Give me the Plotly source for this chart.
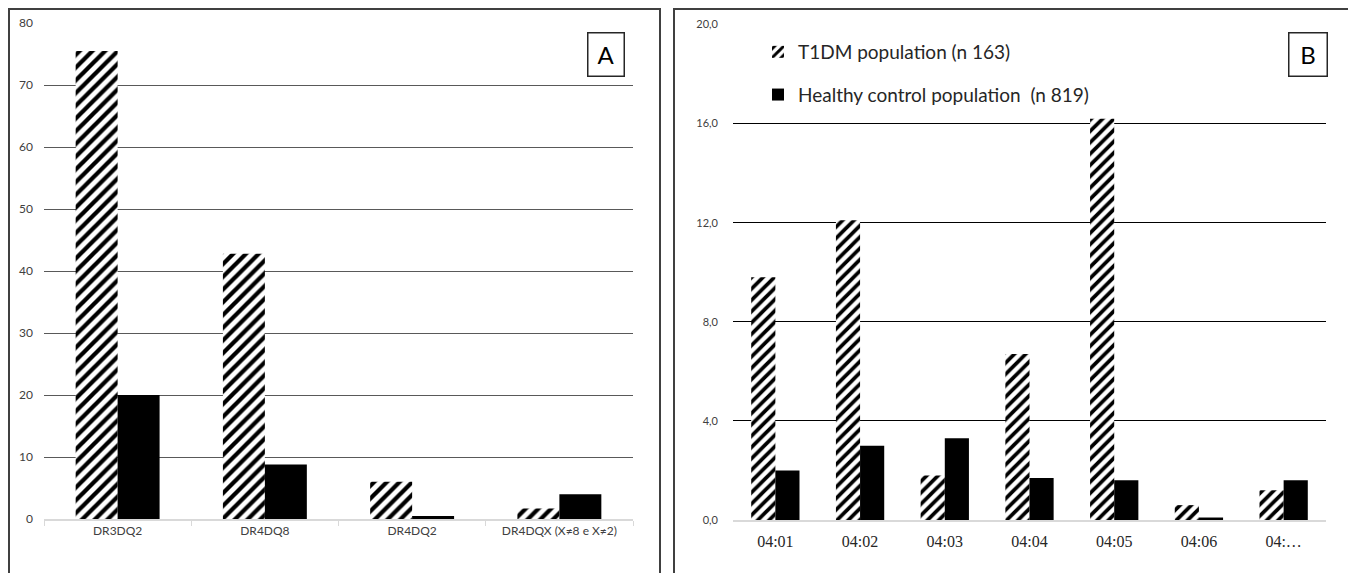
import plotly.graph_objects as go

# ---- data ----
cats_a = ["DR3DQ2", "DR4DQ8", "DR4DQ2", "DR4DQX (X≠8 e X≠2)"]
t1dm_a = [75.5, 42.8, 6.0, 1.7]
ctrl_a = [20.0, 8.8, 0.5, 4.0]

cats_b = ["04:01", "04:02", "04:03", "04:04", "04:05", "04:06", "04:…"]
t1dm_b = [9.8, 12.1, 1.8, 6.7, 16.2, 0.6, 1.2]
ctrl_b = [2.0, 3.0, 3.3, 1.7, 1.6, 0.1, 1.6]

ytick_a = [0, 10, 20, 30, 40, 50, 60, 70, 80]
ytick_b = [0, 4, 8, 12, 16, 20]
ytext_b = ["0,0", "4,0", "8,0", "12,0", "16,0", "20,0"]

name_t1 = "T1DM population (n 163)"
name_hc = "Healthy control population  (n 819)"

W, H = 1356, 573
OFF = 8  # page body margin
def px(x):
    return (x - OFF) / W
def py(y):
    return 1 - (y - OFF) / H

hatch = dict(shape="/", fgcolor="black", bgcolor="white", size=9, solidity=0.47, fillmode="replace")

fig = go.Figure()
fig.add_trace(go.Bar(x=cats_a, y=t1dm_a, name=name_t1, xaxis="x", yaxis="y",
                     marker=dict(color="white", pattern=hatch, line=dict(width=0)),
                     showlegend=False, legendgroup="t1"))
fig.add_trace(go.Bar(x=cats_a, y=ctrl_a, name=name_hc, xaxis="x", yaxis="y",
                     marker=dict(color="black", line=dict(width=0)),
                     showlegend=False, legendgroup="hc"))
hatch_b = dict(hatch, size=8)
fig.add_trace(go.Bar(x=cats_b, y=t1dm_b, name=name_t1, xaxis="x2", yaxis="y2",
                     marker=dict(color="white", pattern=hatch_b, line=dict(width=0)),
                     legendgroup="t1"))
fig.add_trace(go.Bar(x=cats_b, y=ctrl_b, name=name_hc, xaxis="x2", yaxis="y2",
                     marker=dict(color="black", line=dict(width=0)),
                     legendgroup="hc"))

fig.update_layout(
    template="none",
    width=W, height=H,
    margin=dict(l=0, r=0, t=0, b=0, pad=0),
    paper_bgcolor="white", plot_bgcolor="white",
    barmode="group", bargap=0.43, bargroupgap=0,
    font=dict(family="Lato", color="#404040"),
    xaxis=dict(domain=[px(44), px(633)], anchor="y", showgrid=False, zeroline=False,
               automargin=False,
               showline=True, linecolor="#d9d9d9", linewidth=1.5,
               ticks="outside", tickson="boundaries", ticklen=5, tickcolor="#d9d9d9",
               tickfont=dict(family="Lato", size=12, color="#404040")),
    yaxis=dict(domain=[py(519), py(23)], anchor="x", range=[0, 80], tickvals=ytick_a,
               automargin=False,
               showgrid=True, gridcolor="#595959", gridwidth=1.2, zeroline=False,
               showline=False, ticks="", ticklabelstandoff=10,
               tickfont=dict(family="Lato", size=12, color="#404040")),
    xaxis2=dict(domain=[px(733), px(1326)], anchor="y2", showgrid=False, zeroline=False,
                automargin=False,
                showline=True, linecolor="#d9d9d9", linewidth=1.5, ticks="",
                ticklabelstandoff=6,
                tickfont=dict(family="Liberation Serif", size=16, color="#262626")),
    yaxis2=dict(domain=[py(520), py(24.5)], anchor="x2", range=[0, 20],
                tickvals=ytick_b, ticktext=ytext_b, automargin=False,
                showgrid=True, gridcolor="#000000", gridwidth=1, zeroline=False,
                showline=False, ticks="", ticklabelstandoff=14,
                tickfont=dict(family="Lato", size=11, color="#404040")),
    legend=dict(x=px(758), y=py(33), xanchor="left", yanchor="top",
                bgcolor="rgba(0,0,0,0)", borderwidth=0, tracegroupgap=15,
                font=dict(family="Lato", size=19, color="#262626")),
    shapes=[
        dict(type="rect", xref="paper", yref="paper", x0=px(9), x1=px(660), y0=-0.05, y1=py(9),
             line=dict(color="#404040", width=2), fillcolor="rgba(0,0,0,0)"),
        dict(type="rect", xref="paper", yref="paper", x0=px(674), x1=px(1352), y0=-0.05, y1=py(9),
             line=dict(color="#404040", width=2), fillcolor="rgba(0,0,0,0)"),
    ],
    annotations=[
        dict(text="A", xref="paper", yref="paper", x=px(605.5), y=py(54), showarrow=False,
             xanchor="center", yanchor="middle", width=33, height=40, borderpad=1,
             bordercolor="#262626", borderwidth=1.5, font=dict(family="Lato", size=24, color="#000")),
        dict(text="B", xref="paper", yref="paper", x=px(1308), y=py(54.5), showarrow=False,
             xanchor="center", yanchor="middle", width=35, height=40, borderpad=1,
             bordercolor="#262626", borderwidth=1.5, font=dict(family="Lato", size=24, color="#000")),
    ],
)

fig.write_html("out.html")
